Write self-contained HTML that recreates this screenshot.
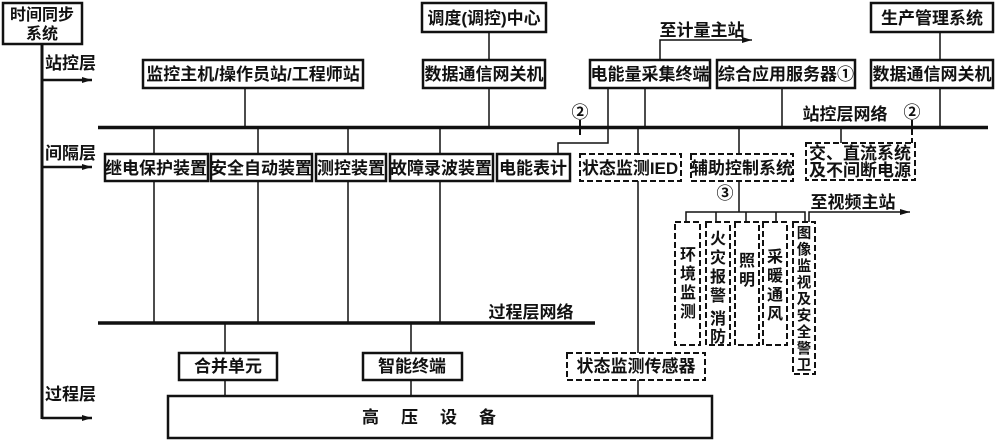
<!DOCTYPE html>
<html><head><meta charset="utf-8"><style>
html,body{margin:0;padding:0;background:#fff;}
svg{display:block;}
text{font-family:"Liberation Sans","Noto Sans CJK SC",sans-serif;font-size:17px;font-weight:bold;fill:#111;}
.v16 text{font-size:16px;}
.v15 text{font-size:14.5px;}
</style></head><body>
<svg width="1000" height="441" viewBox="0 0 1000 441" xmlns="http://www.w3.org/2000/svg">
<defs><marker id="ar" markerWidth="10" markerHeight="6" refX="10" refY="3" orient="auto" markerUnits="userSpaceOnUse"><path d="M0,0 L10,3 L0,6 Z" fill="#111"/></marker></defs>
<g stroke="#111" fill="none">
<g stroke-width="1.5">
<line x1="245" y1="88" x2="245" y2="127"/>
<line x1="489" y1="32" x2="489" y2="60"/>
<line x1="489" y1="88" x2="489" y2="127"/>
<line x1="645" y1="88" x2="645" y2="127"/>
<polyline points="608,88 608,143 558,143 558,154"/>
<line x1="782" y1="88" x2="782" y2="127"/>
<line x1="940" y1="32" x2="940" y2="60"/>
<line x1="940" y1="88" x2="940" y2="127"/>
<polyline points="660,60 660,40 752,40" marker-end="url(#ar)"/>
<line x1="154" y1="127" x2="154" y2="323"/>
<line x1="258" y1="127" x2="258" y2="323"/>
<line x1="348" y1="127" x2="348" y2="323"/>
<line x1="440" y1="127" x2="440" y2="323"/>
<line x1="638" y1="127" x2="638" y2="396"/>
<line x1="739" y1="127" x2="739" y2="212"/>
<line x1="841" y1="127" x2="841" y2="143"/>
<polyline points="686,222 686,212 805,212 805,222"/>
<line x1="716" y1="212" x2="716" y2="222"/>
<line x1="746" y1="212" x2="746" y2="222"/>
<line x1="776" y1="212" x2="776" y2="222"/>
<polyline points="809,222 809,212 910,212" marker-end="url(#ar)"/>
<line x1="225" y1="323" x2="225" y2="396"/>
<line x1="411" y1="323" x2="411" y2="396"/>
</g>
<rect x="3" y="3" width="79" height="41" stroke-width="2.5"/>
<line x1="42" y1="44" x2="42" y2="419" stroke-width="3"/>
<line x1="42" y1="80" x2="92" y2="80" stroke-width="2.5" marker-end="url(#ar)"/>
<line x1="42" y1="167" x2="92" y2="167" stroke-width="2.5" marker-end="url(#ar)"/>
<line x1="42" y1="418" x2="92" y2="418" stroke-width="2.5" marker-end="url(#ar)"/>
<line x1="98" y1="127.5" x2="988" y2="127.5" stroke-width="3.5"/>
<line x1="98" y1="323" x2="595" y2="323" stroke-width="3.5"/>
<g stroke-width="2.5" fill="#fff">
<rect x="143" y="60" width="220" height="28"/>
<rect x="423" y="60" width="122" height="28"/>
<rect x="590" y="60" width="120" height="28"/>
<rect x="717" y="60" width="138" height="28"/>
<rect x="871" y="60" width="122" height="28"/>
<rect x="422" y="3" width="124" height="29"/>
<rect x="871" y="3" width="122" height="29"/>
<rect x="105" y="154" width="103" height="27"/>
<rect x="211" y="154" width="101" height="27"/>
<rect x="316" y="154" width="70" height="27"/>
<rect x="390" y="154" width="103" height="27"/>
<rect x="497" y="154" width="73" height="27"/>
<rect x="179" y="353" width="98" height="27"/>
<rect x="363" y="353" width="99" height="27"/>
<rect x="168" y="396" width="544" height="42"/>
</g>
<g stroke-width="2" stroke-dasharray="6,3" fill="#fff">
<rect x="580" y="154" width="101" height="27"/>
<rect x="691" y="154" width="102" height="27"/>
<rect x="806" y="143" width="109" height="37"/>
<rect x="567" y="353" width="138" height="27"/>
<rect x="675" y="222" width="25" height="123"/>
<rect x="706" y="222" width="24" height="123"/>
<rect x="735" y="222" width="24" height="123"/>
<rect x="763" y="222" width="24" height="123"/>
<rect x="793" y="222" width="22" height="152"/>
<line x1="580" y1="120" x2="580" y2="137"/>
<line x1="912" y1="120" x2="912" y2="143"/>
</g>
</g>
<g text-anchor="middle">
<text x="42" y="20" style="font-size:16px">时间同步</text>
<text x="42" y="39" style="font-size:16px">系统</text>
<text x="253" y="80">监控主机/操作员站/工程师站</text>
<text x="484" y="80">数据通信网关机</text>
<text x="650" y="80">电能量采集终端</text>
<text x="786" y="80">综合应用服务器①</text>
<text x="932" y="80">数据通信网关机</text>
<text x="484" y="24">调度(调控)中心</text>
<text x="932" y="24">生产管理系统</text>
<text x="702" y="36">至计量主站</text>
<text x="580" y="118">②</text>
<text x="912" y="118">②</text>
<text x="845" y="120">站控层网络</text>
<text x="156" y="174">继电保护装置</text>
<text x="261" y="174">安全自动装置</text>
<text x="351" y="174">测控装置</text>
<text x="441" y="174">故障录波装置</text>
<text x="533" y="174">电能表计</text>
<text x="630" y="174">状态监测IED</text>
<text x="742" y="174">辅助控制系统</text>
<text x="860" y="159">交、直流系统</text>
<text x="860" y="176">及不间断电源</text>
<text x="725" y="199">③</text>
<text x="853" y="208">至视频主站</text>
<text x="531" y="318">过程层网络</text>
<text x="228" y="372">合并单元</text>
<text x="412" y="372">智能终端</text>
<text x="636" y="372">状态监测传感器</text>
<text x="440" y="423" letter-spacing="22">高压设备</text>
</g>
<text x="45" y="69">站控层</text>
<text x="45" y="159">间隔层</text>
<text x="45" y="400">过程层</text>
<g text-anchor="middle" class="v16">
<text x="688" y="260">环</text><text x="688" y="279">境</text><text x="688" y="298">监</text><text x="688" y="317">测</text>
<text x="718" y="244">火</text><text x="718" y="263">灾</text><text x="718" y="282">报</text><text x="718" y="301">警</text><text x="718" y="314">、</text><text x="718" y="324">消</text><text x="718" y="342">防</text>
<text x="747" y="266">照</text><text x="747" y="285">明</text>
<text x="775" y="262">采</text><text x="775" y="281">暖</text><text x="775" y="300">通</text><text x="775" y="319">风</text>
</g>
<g text-anchor="middle" class="v15">
<text x="804" y="238">图</text><text x="804" y="254.5">像</text><text x="804" y="271">监</text><text x="804" y="287.5">视</text><text x="804" y="304">及</text><text x="804" y="320.5">安</text><text x="804" y="337">全</text><text x="804" y="353.5">警</text><text x="804" y="370">卫</text>
</g>
</svg>
</body></html>
